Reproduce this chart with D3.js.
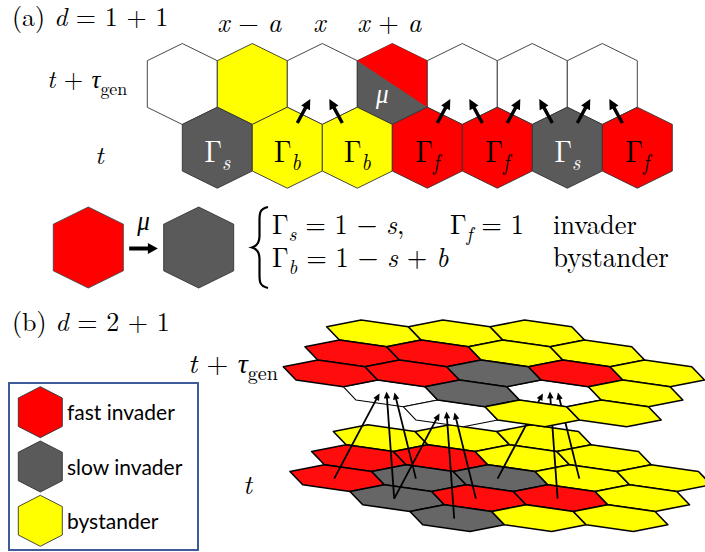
<!DOCTYPE html>
<html><head><meta charset="utf-8">
<script src="https://cdn.jsdelivr.net/npm/d3@7"></script>
<style>body{margin:0;background:#fff} svg{display:block}</style>
</head><body>
<svg id="c" width="705" height="552"></svg>
<script>
// ---------------- data ----------------
const stateColorA = {fast:"#ff0000", slow:"#5a5a5a", bystander:"#ffff00", empty:"#ffffff"};
const stateColorB = {R:"#ff0d0d", G:"#666666", Y:"#ffff00", W:"#ffffff"};
// (a) d = 1+1 : row at t+tau_gen (top) and row at t (bottom)
const topRowA = ["empty","bystander","empty","mutant","empty","empty","empty"];
const bottomRowA = ["slow","bystander","bystander","fast","fast","slow","fast"];
const bottomSubA = ["s","b","b","f","f","s","f"];
const colLabelIdxA = [1,2,3];
const colLabelTextA = [
  [["x","i"],[" − ","r"],["a","i"]],
  [["x","i"]],
  [["x","i"],[" + ","r"],["a","i"]]
];
// arrows: [bottom cell index, top cell index]
const arrowsA = [[1,2],[2,2],[3,4],[4,4],[4,5],[5,5],[5,6],[6,6]];
// (b) d = 2+1 : hexagonal patches, rows of cells (R fast, G slow, Y bystander, W empty)
const topLayerB = ["YYY","RRYY","RRGRY","WGWY","WYY"];
const bottomLayerB = ["YYY","RRYY","RGGYY","GRRY","GYY"];
const rowStartB = [0,0,0,1,2];
// arrows: [source cell in layer t (row,col), target cell in layer t+tau (row,col)]
const arrowsB = [
  [[2,0],[3,1]], [[3,1],[3,1]], [[2,1],[3,1]],
  [[3,1],[4,2]], [[4,2],[4,2]], [[3,2],[4,2]],
  [[2,2],[3,3]], [[3,3],[3,3]], [[2,3],[3,3]]
];
const legendStates = ["fast","slow","bystander"];
const legendLabels = ["fast invader","slow invader","bystander"];

// ---------------- helpers ----------------
const svg = d3.select("#c");
const SERIF = "'Latin Modern Roman','CMU Serif','Liberation Serif','Times New Roman',serif";
const SANS = "Lato,'Noto Sans','DejaVu Sans',sans-serif";

function mathText(parent, x, y, segs, size, opts={}) {
  const sy = opts.sy || 1;
  let host = parent, tx = x, ty = y;
  if (sy !== 1) {
    host = parent.append("g").attr("transform", `translate(${x},${y}) scale(1,${sy})`);
    tx = 0; ty = 0;
  }
  const t = host.append("text").attr("x", tx).attr("y", ty)
    .attr("font-family", SERIF).attr("font-size", size)
    .attr("fill", opts.fill || "#000")
    .attr("text-anchor", opts.anchor || "start");
  let shift = 0;
  segs.forEach(([s, st]) => {
    const sp = t.append("tspan").text(s);
    const isSub = st === "sub" || st === "subi";
    const want = isSub ? size * 0.26 : 0;
    if (want !== shift) { sp.attr("dy", want - shift); shift = want; }
    if (isSub) sp.attr("font-size", size * 0.72);
    if (st === "i" || st === "subi") sp.attr("font-style", "italic");
  });
  t.style("white-space","pre");
  return t;
}

function arrow(parent, x1, y1, x2, y2, lw, hl, hw) {
  const dx = x2 - x1, dy = y2 - y1, L = Math.hypot(dx, dy);
  const ux = dx / L, uy = dy / L;
  const bx = x2 - ux * hl, by = y2 - uy * hl;
  parent.append("line").attr("x1", x1).attr("y1", y1)
    .attr("x2", bx + ux * 1).attr("y2", by + uy * 1)
    .attr("stroke", "#000").attr("stroke-width", lw);
  parent.append("path")
    .attr("d", `M${x2},${y2}L${bx - uy * hw},${by + ux * hw}L${bx + uy * hw},${by - ux * hw}Z`)
    .attr("fill", "#000");
}

// ---------------- (a) ----------------
const gA = svg.append("g");
const xA = d3.scaleLinear().domain([0, 6]).range([182.3, 602.3]);
const yA = d3.scaleLinear().domain([0, 1]).range([84, 147.7]);
const hwA = 35, tipA = 40.5, sideA = 23.3;
const hexPts = (cx, cy, hw, tip, side) => [
  [cx, cy - tip], [cx + hw, cy - side], [cx + hw, cy + side],
  [cx, cy + tip], [cx - hw, cy + side], [cx - hw, cy - side]];
const ptsStr = p => "M" + p.map(q => q.join(",")).join("L") + "Z";

topRowA.forEach((s, i) => {
  const cx = xA(i), cy = yA(0);
  const p = hexPts(cx, cy, hwA, tipA, sideA);
  if (s === "mutant") {
    gA.append("path").attr("d", ptsStr(p)).attr("fill", stateColorA.slow)
      .attr("stroke", "#333").attr("stroke-width", 0.9);
    gA.append("path").attr("d", ptsStr([p[5], p[0], p[1], p[2]])).attr("fill", stateColorA.fast)
      .attr("stroke", "none");
    mathText(gA, cx - 10, cy + 19, [["μ","i"]], 25, {fill:"#fff", anchor:"middle", sy:1.1});
  } else {
    gA.append("path").attr("d", ptsStr(p)).attr("fill", stateColorA[s])
      .attr("stroke", "#333").attr("stroke-width", 0.9);
  }
});
bottomRowA.forEach((s, i) => {
  const cx = xA(i + 0.5), cy = yA(1);
  gA.append("path").attr("d", ptsStr(hexPts(cx, cy, hwA, tipA, sideA)))
    .attr("fill", stateColorA[s]).attr("stroke", "#333").attr("stroke-width", 0.9);
  mathText(gA, cx, cy + 14, [["Γ","r"],[bottomSubA[i],"subi"]], 28,
    {fill: s === "slow" ? "#fff" : "#000", anchor:"middle", sy:1.12});
});
arrowsA.forEach(([b, t]) => {
  const cx = xA(t);
  const left = (b + 0.5) < t;
  if (left) arrow(gA, cx - 25, 123, cx - 12, 99, 3.4, 10, 5);
  else arrow(gA, cx + 20, 123, cx + 7, 99, 3.4, 10, 5);
});
colLabelIdxA.forEach((c, k) => {
  mathText(gA, xA(c) - 3, 32, colLabelTextA[k], 26.5, {anchor:"middle"});
});
mathText(gA, 12, 26, [["(a) ","r"],["d","i"],[" = 1 + 1","r"]], 26);
mathText(gA, 47, 88, [["t","i"],[" + ","r"],["τ","i"],["gen","sub"]], 25);
mathText(gA, 95, 164, [["t","i"]], 26);

// middle row: mutation and fitness definitions
const midY = 247.5;
const xMid = d3.scaleLinear().domain([0, 1]).range([88.3, 198.7]);
gA.append("path").attr("d", ptsStr(hexPts(xMid(0), midY, hwA, tipA, sideA)))
  .attr("fill", stateColorA.fast).attr("stroke", "#444").attr("stroke-width", 0.9);
gA.append("path").attr("d", ptsStr(hexPts(xMid(1), midY, hwA, tipA, sideA)))
  .attr("fill", stateColorA.slow).attr("stroke", "#333").attr("stroke-width", 0.9);
arrow(gA, xMid(0.37), midY + 1, xMid(0.63), midY + 1, 4, 10, 5.5);
mathText(gA, xMid(0.5), 230, [["μ","i"]], 25, {anchor:"middle", sy:1.1});
// brace
gA.append("path")
  .attr("d", "M268,207 C259,209 259.5,214 259.5,222 L259.5,236 C259.5,243 257,246 252,247.5 C257,249 259.5,252 259.5,259 L259.5,273 C259.5,281 259,286 268,288")
  .attr("fill", "none").attr("stroke", "#000").attr("stroke-width", 2.2);
const eqSize = 26.5, eqSy = 1.06;
mathText(gA, 272, 234, [["Γ","r"],["s","subi"],[" = 1 − ","r"],["s","i"],[",","r"]], eqSize, {sy:eqSy});
mathText(gA, 450, 234, [["Γ","r"],["f","subi"],[" = 1","r"]], eqSize, {sy:eqSy});
mathText(gA, 553, 234, [["invader","r"]], eqSize, {sy:eqSy});
mathText(gA, 272, 267, [["Γ","r"],["b","subi"],[" = 1 − ","r"],["s","i"],[" + ","r"],["b","i"]], eqSize, {sy:eqSy});
mathText(gA, 553, 267, [["bystander","r"]], 27, {sy:eqSy});

// ---------------- (b) ----------------
const gB = svg.append("g");
mathText(gB, 12, 331, [["(b) ","r"],["d","i"],[" = 2 + 1","r"]], 26);
mathText(gB, 188, 373, [["t","i"],[" + ","r"],["τ","i"],["gen","sub"]], 28);
mathText(gB, 243, 494, [["t","i"]], 27);

const colB = d3.scaleLinear().domain([0, 1]).range([0, 81.7]);
const rowBX = d3.scaleLinear().domain([0, 1]).range([0, -21.7]);
const rowBY = d3.scaleLinear().domain([0, 1]).range([0, 20]);
const layerOrigin = {top:[373.9, 333.4], bottom:[380.6, 438.1]};
const A_ = colB(1), CR = (rowBX(1) + A_ / 2) / 1.5, DR = rowBY(1) / 1.5;
const hexOffB = [[-CR, -DR], [A_/2 - CR/2, -DR/2], [A_/2 + CR/2, DR/2],
                 [CR, DR], [-A_/2 + CR/2, DR/2], [-A_/2 - CR/2, -DR/2]];
const cellCenter = (layer, r, c) => {
  const o = layerOrigin[layer];
  return [o[0] + colB(c) + rowBX(r), o[1] + rowBY(r)];
};
const cellsOf = (layer, rows) => {
  const out = [];
  rows.forEach((row, r) => row.split("").forEach((s, k) => {
    const c = rowStartB[r] + k;
    out.push({layer, r, c, s, ctr: cellCenter(layer, r, c)});
  }));
  return out;
};
const hexB = d => ptsStr(hexOffB.map(([dx, dy]) => [d.ctr[0] + dx, d.ctr[1] + dy]));
const drawCells = (cells) => gB.selectAll(null).data(cells).enter().append("path")
  .attr("d", hexB).attr("fill", d => stateColorB[d.s])
  .attr("stroke", "#000").attr("stroke-width", d => d.s === "W" ? 1.1 : 1.6)
  .attr("stroke-linejoin", "round");

drawCells(cellsOf("bottom", bottomLayerB));
const topCells = cellsOf("top", topLayerB);
drawCells(topCells.filter(d => d.s === "W"));
// arrows
const tipOff = [[-11, 0], [-4, -2], [4, -1]];
const groups = d3.groups(arrowsB, a => a[1].join(","));
groups.forEach(([key, arr]) => {
  const srt = arr.map(a => ({src: cellCenter("bottom", a[0][0], a[0][1]), tgt: cellCenter("top", a[1][0], a[1][1])}))
    .sort((p, q) => p.src[0] - q.src[0]);
  srt.forEach((p, i) => {
    arrow(gB, p.src[0] - 3, p.src[1] + 0.5, p.tgt[0] + tipOff[i][0], p.tgt[1] + tipOff[i][1], 1.8, 7, 3.2);
  });
});
drawCells(topCells.filter(d => d.s !== "W"));

// legend
const gL = svg.append("g");
gL.append("rect").attr("x", 9).attr("y", 383).attr("width", 189).attr("height", 167)
  .attr("fill", "#fff").attr("stroke", "#3d5a99").attr("stroke-width", 2);
const yL = d3.scaleLinear().domain([0, 1]).range([412.2, 466.5]);
legendStates.forEach((s, i) => {
  gL.append("path").attr("d", ptsStr(hexPts(40.3, yL(i), 22, 25.5, 14.2)))
    .attr("fill", stateColorA[s]).attr("stroke", "#333").attr("stroke-width", 0.9);
  gL.append("text").attr("x", 67).attr("y", yL(i) + 8).text(legendLabels[i])
    .attr("font-family", SANS).attr("font-size", 21).attr("fill", "#000");
});
</script>
</body></html>
